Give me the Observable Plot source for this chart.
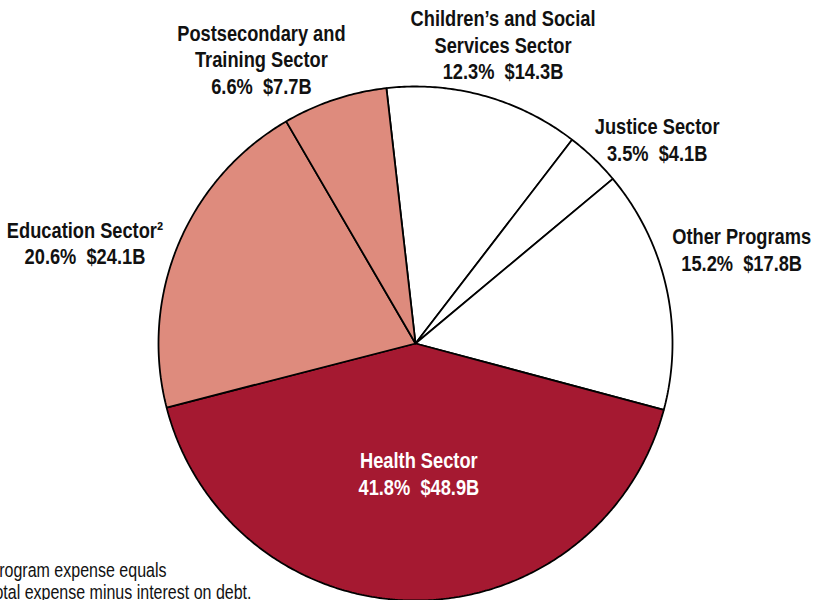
<!DOCTYPE html>
<html>
<head>
<meta charset="utf-8">
<script src="https://cdn.jsdelivr.net/npm/d3@7"></script>
<script src="https://cdn.jsdelivr.net/npm/@observablehq/plot@0.6"></script>
<style>
  html, body { margin: 0; padding: 0; background: #fff; overflow: hidden; }
  #chart svg { display: block; }
</style>
</head>
<body>
<div id="chart"></div>
<script>
// ---- data ----
const sectors = [
  "Children\u2019s and Social\nServices Sector",
  "Justice Sector",
  "Other Programs",
  "Health Sector",
  "Education Sector\u00b2",
  "Postsecondary and\nTraining Sector"
];
const amounts = [14.3, 4.1, 17.8, 48.9, 24.1, 7.7];      // $ billions
const percents = [12.3, 3.5, 15.2, 41.8, 20.6, 6.6];
const sliceColors = ["#ffffff", "#ffffff", "#ffffff", "#a51931", "#de8b7d", "#de8b7d"];
const labelColors = ["#111", "#111", "#111", "#ffffff", "#111", "#111"];
const footnoteLines = ["\u00b9 Program expense equals", "total expense minus interest on debt."];

// ---- layout (label placement relative to slice mid-angle) ----
const startDeg = -6.5;
const labelRadius = [1.2, 1.2, 1.2, 0.52, 1.2, 1.2];
const labelDx = [5, 28, 25, 4, -46, -57];
const labelDy = [-2, 18, -28, -4, 18, 8];
const narrow = 0.83; // horizontal condensing to mimic a narrow typeface

const pie = d3.pie().sort(null).value(d => d)
  .startAngle(startDeg * Math.PI / 180)
  .endAngle((startDeg + 360) * Math.PI / 180);
const arcs = pie(amounts);

// slice outlines in unit-radius coordinates
const pts = [];
arcs.forEach((a, i) => {
  const steps = Math.max(8, Math.ceil((a.endAngle - a.startAngle) / 0.01));
  pts.push({i, x: 0, y: 0});
  for (let k = 0; k <= steps; k++) {
    const t = a.startAngle + (a.endAngle - a.startAngle) * k / steps;
    pts.push({i, x: Math.sin(t), y: Math.cos(t)});
  }
  pts.push({i, x: 0, y: 0});
});

const labels = arcs.map((a, i) => {
  const m = (a.startAngle + a.endAngle) / 2;
  return {
    i,
    x: labelRadius[i] * Math.sin(m),
    y: labelRadius[i] * Math.cos(m),
    text: `${sectors[i]}\n${percents[i].toFixed(1)}%\u00a0 $${amounts[i].toFixed(1)}B`
  };
});

const font = "'Liberation Sans', Arial, sans-serif";

const chart = Plot.plot({
  width: 816,
  height: 600,
  margin: 0,
  style: {fontFamily: font, background: "#fff", overflow: "visible"},
  x: {domain: [-1, 1], range: [158, 672], axis: null},
  y: {domain: [-1, 1], range: [600, 86], axis: null},
  color: {type: "identity"},
  marks: [
    Plot.line(pts, {
      x: "x", y: "y", z: "i",
      fill: d => sliceColors[d.i],
      stroke: "#000", strokeWidth: 1.8, strokeLinejoin: "miter"
    }),
    ...labels.map(l => Plot.text([l], {
      x: "x", y: "y", text: "text",
      dx: labelDx[l.i], dy: labelDy[l.i],
      fill: labelColors[l.i],
      fontSize: 22, fontWeight: "bold",
      lineHeight: 1.2, lineAnchor: "middle", textAnchor: "middle"
    })),
    Plot.text([footnoteLines[0]], {
      text: d => d, frameAnchor: "bottom-left", textAnchor: "end",
      dx: 166, dy: -30, fontSize: 19.3, fill: "#111", lineAnchor: "middle"
    }),
    Plot.text([footnoteLines[1]], {
      text: d => d, frameAnchor: "bottom-left", textAnchor: "end",
      dx: 251, dy: -8, fontSize: 19.3, fill: "#111", lineAnchor: "middle"
    })
  ]
});
chart.querySelectorAll("text").forEach(t => {
  const tr = t.getAttribute("transform") || "";
  t.setAttribute("transform", `${tr} scale(${narrow},1)`);
});
document.getElementById("chart").appendChild(chart);
</script>
</body>
</html>
